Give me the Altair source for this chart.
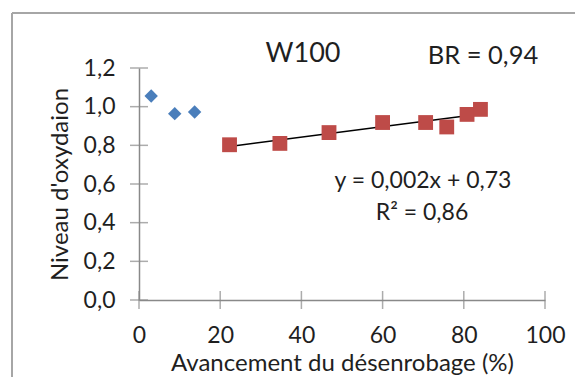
import altair as alt
import pandas as pd

# Data
blue_x = [3.0, 8.8, 13.7]
blue_y = [1.055, 0.964, 0.972]
red_x = [22.3, 34.7, 46.8, 60.0, 70.6, 75.8, 80.8, 84.1]
red_y = [0.803, 0.81, 0.866, 0.918, 0.918, 0.895, 0.96, 0.986]
x_ticks = [0, 20, 40, 60, 80, 100]
y_ticks = [0.0, 0.2, 0.4, 0.6, 0.8, 1.0, 1.2]

FONT = "Lato"
AXIS_COLOR = "#898989"
TEXT_COLOR = "#1f1f1f"
W, H = 406, 232

blue_df = pd.DataFrame({"x": blue_x, "y": blue_y})
red_df = pd.DataFrame({"x": red_x, "y": red_y})
xt_df = pd.DataFrame({"x": x_ticks})
yt_df = pd.DataFrame({"y": y_ticks})

xscale = alt.Scale(domain=[0, 100], nice=False)
yscale = alt.Scale(domain=[0, 1.2], nice=False)

xaxis = alt.Axis(
    title="Avancement du désenrobage (%)",
    values=x_ticks, ticks=False, grid=False,
    domainColor=AXIS_COLOR, domainWidth=1.5,
    labelFont=FONT, labelFontSize=23, labelColor=TEXT_COLOR, labelPadding=24,
    labelOverlap=False,
    titleFont=FONT, titleFontSize=24, titleFontWeight="normal", titleColor=TEXT_COLOR,
    titlePadding=4, labelFlush=False,
)
yaxis = alt.Axis(
    title="Niveau d'oxydaion",
    values=y_ticks, ticks=False, grid=False,
    domainColor=AXIS_COLOR, domainWidth=1.5,
    labelFont=FONT, labelFontSize=23, labelColor=TEXT_COLOR, labelPadding=24,
    labelOverlap=False,
    labelExpr="replace(format(datum.value, '.1f'), '.', ',')",
    titleFont=FONT, titleFontSize=24, titleFontWeight="normal", titleColor=TEXT_COLOR,
    titlePadding=11, labelFlush=False,
)

X = alt.X("x:Q", scale=xscale, axis=xaxis)
Y = alt.Y("y:Q", scale=yscale, axis=yaxis)

blue = alt.Chart(blue_df).mark_point(
    shape="diamond", filled=True, size=180, color="#4A7EBB", opacity=1
).encode(x=X, y=Y)

red = alt.Chart(red_df).mark_point(
    shape="square", filled=True, size=220, color="#BE4B48", opacity=1
).encode(x=X, y=Y)

trend = alt.Chart(red_df).transform_regression("x", "y").mark_line(
    color="black", strokeWidth=1.5
).encode(x=X, y=Y)

xticks = alt.Chart(xt_df).mark_tick(
    orient="vertical", size=18, thickness=1.5, color=AXIS_COLOR
).encode(x=X, y=alt.value(H))

yticks = alt.Chart(yt_df).mark_tick(
    orient="horizontal", size=18, thickness=1.5, color=AXIS_COLOR
).encode(y=Y, x=alt.value(0))

def label(text, px, py, size):
    return alt.Chart(pd.DataFrame({"t": [text]})).mark_text(
        font=FONT, fontSize=size, color=TEXT_COLOR, align="center", baseline="middle"
    ).encode(text="t:N", x=alt.value(px), y=alt.value(py))

title_w = label("W100", 164, -14, 27)
title_br = label("BR = 0,94", 344, -12, 25.5)
eq1 = label("y = 0,002x + 0,73", 284, 113, 23)
eq2 = label("R² = 0,86", 283, 145, 23)

frame_top = alt.Chart(pd.DataFrame({"a": [0]})).mark_rule(color="#A6A6A6", strokeWidth=2).encode(
    x=alt.value(-127), x2=alt.value(460), y=alt.value(-55)
)
frame_left = alt.Chart(pd.DataFrame({"a": [0]})).mark_rule(color="#A6A6A6", strokeWidth=2).encode(
    x=alt.value(-127), y=alt.value(-55), y2=alt.value(320)
)

chart = alt.layer(
    frame_top, frame_left, xticks, yticks, trend, red, blue,
    title_w, title_br, eq1, eq2
).properties(
    width=W, height=H,
    padding={"left": 139, "top": 68, "right": 30, "bottom": 77},
    autosize=alt.AutoSizeParams(type="none"),
    background="white",
).configure_view(stroke=None).configure_axis(labelOverlap=False)

chart.save("out.html", embed_options={"renderer": "svg", "actions": False})
